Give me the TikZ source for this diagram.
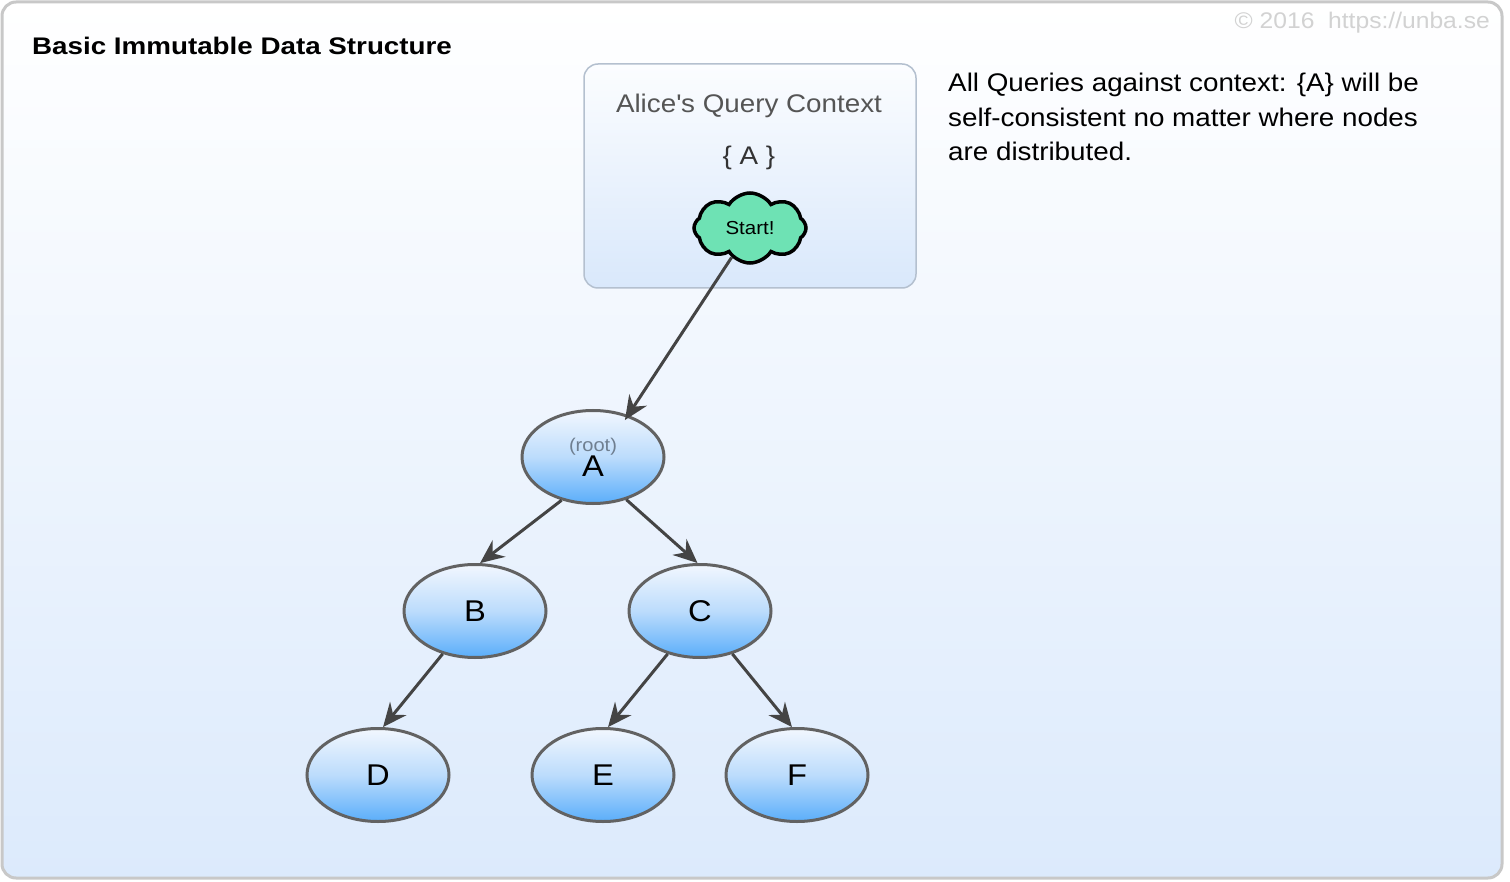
\documentclass[tikz,border=0pt]{standalone}
\usepackage{fontspec}
\setmainfont{Liberation Sans}[FakeStretch=1.09]
\newfontfamily\titlefont{Liberation Sans}[FakeStretch=1.157]
\usetikzlibrary{shapes.geometric,shapes.symbols,arrows.meta}

\definecolor{framegray}{HTML}{C8C8C8}
\definecolor{bgblue}{HTML}{DCEAFC}
\definecolor{ctxline}{HTML}{B4C0CF}
\definecolor{ctxblue}{HTML}{D9E8FB}
\definecolor{nodetop}{HTML}{F2F7FE}
\definecolor{nodemid}{HTML}{BCDCFC}
\definecolor{nodebot}{HTML}{5AAEFA}
\definecolor{nodeline}{HTML}{626262}
\definecolor{edgegray}{HTML}{444444}
\definecolor{cloudgreen}{HTML}{6EE2B4}
\definecolor{labelgray}{HTML}{555555}
\definecolor{rootgray}{HTML}{6F7F90}
\definecolor{notegray}{HTML}{D2D2D2}

\tikzset{
  treenode/.style={ellipse, draw=nodeline, line width=3pt, minimum width=142pt,
    minimum height=93pt, inner sep=0pt, top color=nodetop, bottom color=nodebot,
    middle color=nodemid, font=\fontsize{30}{30}\selectfont},
  edge/.style={draw=edgegray, line width=3pt,
    -{Stealth[length=24pt,width=21pt,inset=8pt]}},
  plain/.style={inner sep=0pt},
}

\begin{document}
\begin{tikzpicture}[x=1pt,y=-1pt]
  \useasboundingbox (0,0) rectangle (1510,882);
  % frame and background
  \draw[framegray, line width=3pt, rounded corners=14pt, top color=white, bottom color=bgblue]
    (2,2) rectangle (1502,878);
  \node[plain, anchor=base east, text=notegray, font=\fontsize{22.6}{22.6}\selectfont] (note) at (1490,29) {© 2016\ \ https://unba.se};
  \node[plain, anchor=base west, font=\titlefont\bfseries\fontsize{24}{24}\selectfont] (title) at (32,55) {Basic Immutable Data Structure};
  \node[plain, anchor=base west, align=left, font=\fontsize{25.5}{34.5}\selectfont] (remark) at (948,161)
    {All Queries against context: \{A\} will be\\self-consistent no matter where nodes\\are distributed.};

  % query context
  \node[draw=ctxline, line width=1.5pt, rounded corners=14pt, top color=white!70!ctxblue!30,
    bottom color=ctxblue, minimum width=332pt, minimum height=224pt] (ctx) at (750,176) {};
  \node[plain, anchor=base, text=labelgray, font=\fontsize{25.5}{25.5}\selectfont] (ctxname) at (749,113) {Alice\textquotesingle s Query Context};
  \node[plain, anchor=base, text=labelgray!60!black, font=\fontsize{25.5}{25.5}\selectfont] (ctxset) at (749,165) {\{ A \}};
  \node[cloud, cloud puffs=8, cloud puff arc=115, aspect=1.6, draw=black, line width=3.5pt,
    fill=cloudgreen, minimum width=112pt, minimum height=70pt, inner sep=0pt,
    font=\fontsize{18.8}{18.8}\selectfont] (start) at (750,228) {Start!};

  % tree
  \node[treenode, align=center] (A) at (593,457)
    {{\fontsize{18.4}{18.4}\selectfont\color{rootgray}(root)}\\[-5pt]A};
  \foreach \n/\x/\y in {B/475/611, C/700/611, D/378/775, E/603/775, F/797/775}
    \node[treenode] (\n) at (\x,\y) {\n};

  \draw[edge, shorten >=-6pt] (start.-122) -- (A.50);
  \foreach \p/\a/\c/\b in {A/-126/B/84, A/-52/C/93, B/-127/D/84, C/-127/E/84, C/-53/F/96}
    \draw[edge] (\p.\a) -- (\c.\b);
\end{tikzpicture}
\end{document}
